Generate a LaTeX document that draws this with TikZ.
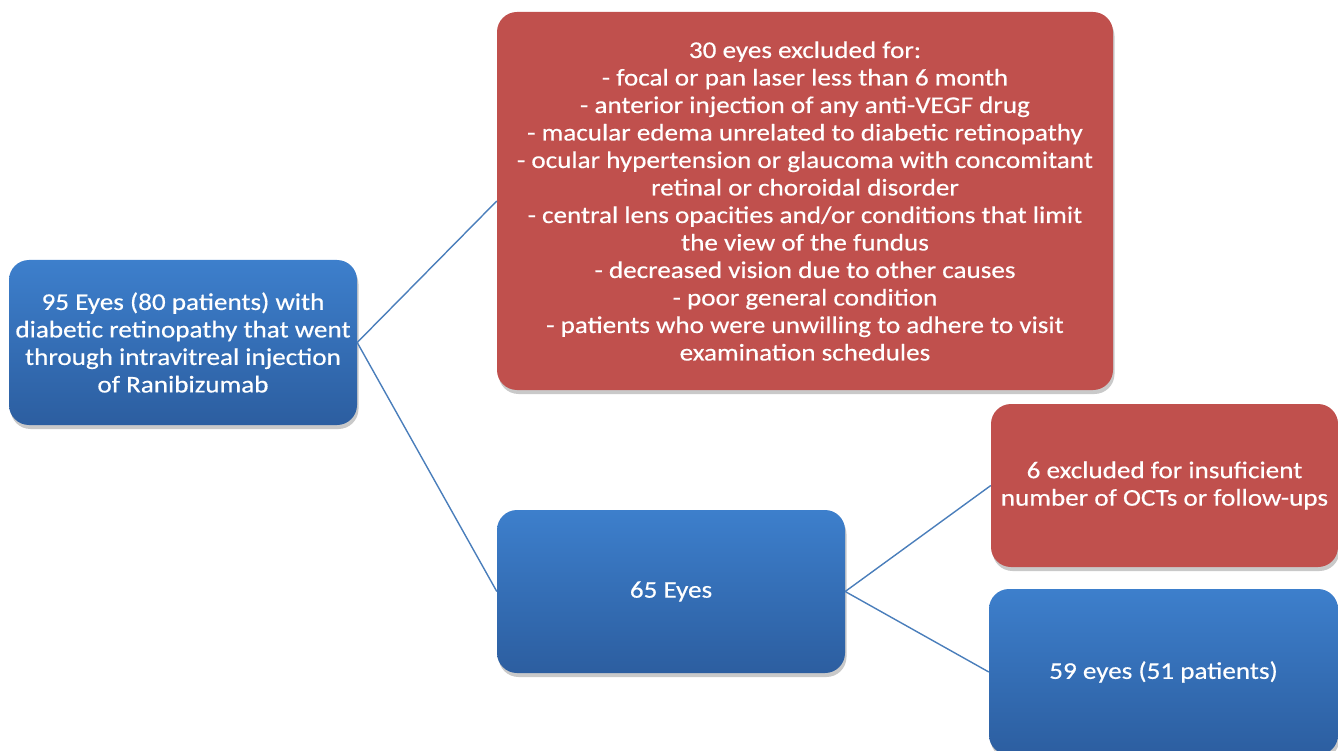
\documentclass[tikz,border=0pt]{standalone}
\usepackage{fontspec}
\setmainfont{Carlito}[FakeStretch=1.13, FakeBold=0.4]
\usetikzlibrary{positioning, shadows}
\definecolor{bluetop}{RGB}{61, 127, 204}
\definecolor{bluebot}{RGB}{44, 94, 160}
\definecolor{redcolor}{RGB}{192, 80, 77}
\definecolor{linkcolor}{RGB}{74, 126, 187}
\tikzset{
    % Base styles
    basenode/.style={
        rounded corners=20pt, align=center, text=white,
        font=\fontsize{24}{27.5}\selectfont, inner sep=4pt,
        drop shadow={shadow xshift=1.5pt, shadow yshift=-4pt, opacity=0.3, fill=black!70}
    },
    % Specific node types
    bluenode/.style={basenode, top color=bluetop, bottom color=bluebot},
    rednode/.style={basenode, fill=redcolor},
    % Connectors
    link/.style={line width=1.4pt, linkcolor},
}

\begin{document}
\begin{tikzpicture}[x=1pt, y=-1pt]
\useasboundingbox (0,0) rectangle (1338,751);

% ===== Start =====
\node (start) [bluenode, minimum width=348pt, minimum height=165pt] at (183,342.5) {
    95 Eyes (80 patients) with\\
    diabetic retinopathy that went\\
    through intravitreal injection\\
    of Ranibizumab
};

% ===== First exclusion =====
\node (excl30) [rednode, minimum width=616pt, minimum height=378pt] at (805,201) {
    30 eyes excluded for:\\
    - focal or pan laser less than 6 month\\
    - anterior injection of any anti-VEGF drug\\
    - macular edema unrelated to diabetic retinopathy\\
    - ocular hypertension or glaucoma with concomitant\\
    retinal or choroidal disorder\\
    - central lens opacities and/or conditions that limit\\
    the view of the fundus\\
    - decreased vision due to other causes\\
    - poor general condition\\
    - patients who were unwilling to adhere to visit\\
    examination schedules
};

\node (eyes65) [bluenode, minimum width=348pt, minimum height=163pt] at (671,591.5) {65 Eyes};

\draw[link] (start.east) -- (excl30.west);
\draw[link] (start.east) -- (eyes65.west);

% ===== Second exclusion =====
\node (excl6) [rednode, minimum width=347pt, minimum height=163pt] at (1164.5,485.5) {
    6 excluded for insuficient\\
    number of OCTs or follow-ups
};

\node (eyes59) [bluenode, minimum width=349pt, minimum height=166pt] at (1163.5,672) {59 eyes (51 patients)};

\draw[link] (eyes65.east) -- (excl6.west);
\draw[link] (eyes65.east) -- (eyes59.west);

\end{tikzpicture}
\end{document}
